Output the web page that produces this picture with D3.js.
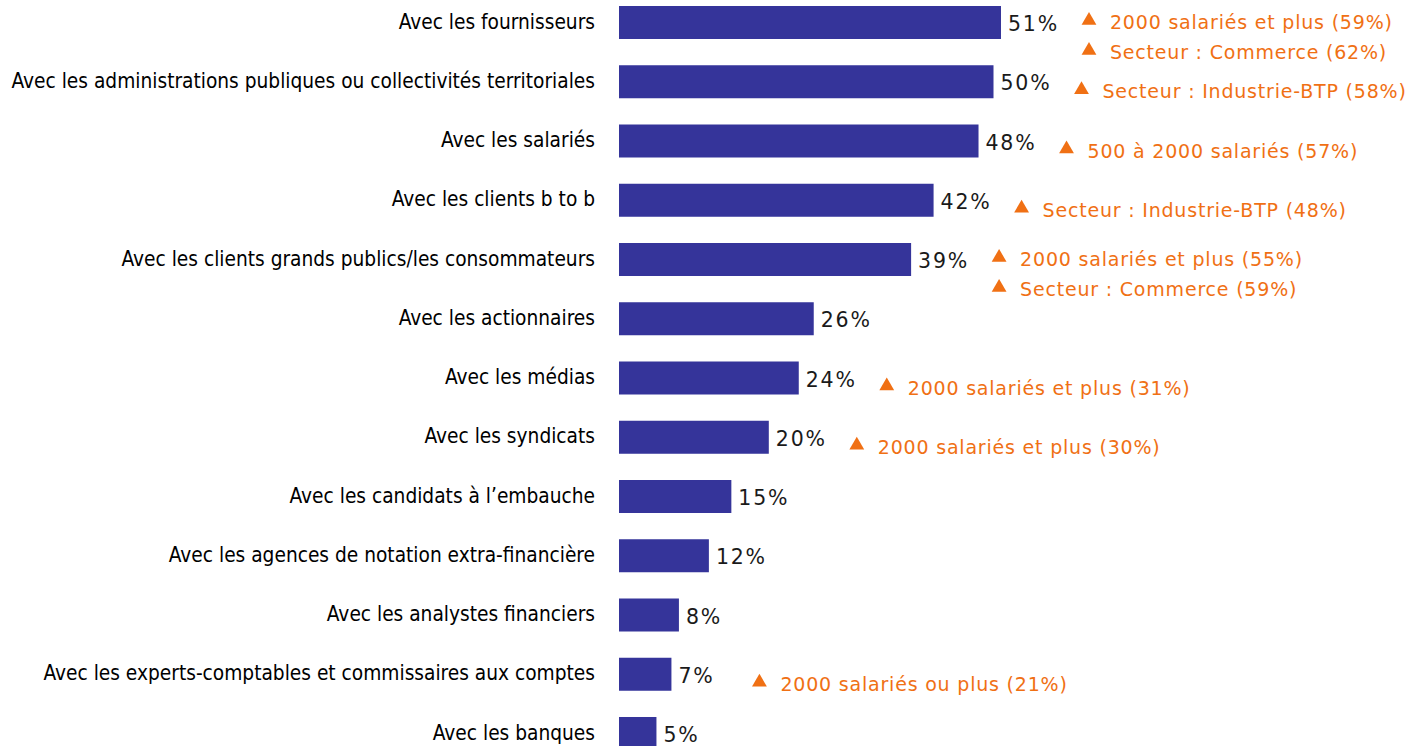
<!DOCTYPE html>
<html>
<head>
<meta charset="utf-8">
<script src="https://cdn.jsdelivr.net/npm/d3@7"></script>
<style>
  html, body { margin: 0; padding: 0; background: #fff; }
  svg { display: block; }
</style>
</head>
<body>
<svg id="chart" width="1418" height="746"></svg>
<script>
const categories = [
  "Avec les fournisseurs",
  "Avec les administrations publiques ou collectivités territoriales",
  "Avec les salariés",
  "Avec les clients b to b",
  "Avec les clients grands publics/les consommateurs",
  "Avec les actionnaires",
  "Avec les médias",
  "Avec les syndicats",
  "Avec les candidats à l’embauche",
  "Avec les agences de notation extra-financière",
  "Avec les analystes financiers",
  "Avec les experts-comptables et commissaires aux comptes",
  "Avec les banques"
];
const values = [51, 50, 48, 42, 39, 26, 24, 20, 15, 12, 8, 7, 5];
const annotations = [
  ["2000 salariés et plus (59%)", "Secteur : Commerce (62%)"],
  ["Secteur : Industrie-BTP (58%)"],
  ["500 à 2000 salariés (57%)"],
  ["Secteur : Industrie-BTP (48%)"],
  ["2000 salariés et plus (55%)", "Secteur : Commerce (59%)"],
  [],
  ["2000 salariés et plus (31%)"],
  ["2000 salariés et plus (30%)"],
  [],
  [],
  [],
  ["2000 salariés ou plus (21%)"],
  []
];

const svg = d3.select("#chart");
const barColor = "#35349A";
const orange = "#F07014";

const x = d3.scaleLinear().domain([0, 100]).range([619, 619 + 749]);
const y = d3.scaleBand().domain(categories).range([6, 750]).paddingInner(0.443).paddingOuter(0);

const rows = svg.selectAll("g.row").data(categories).join("g").attr("class", "row");

rows.append("rect")
  .attr("x", x(0))
  .attr("y", d => y(d))
  .attr("width", (d, i) => x(values[i]) - x(0))
  .attr("height", y.bandwidth())
  .attr("fill", barColor);

rows.append("text")
  .attr("x", 595)
  .attr("y", d => y(d) + y.bandwidth() / 2 - 1)
  .attr("dy", "0.35em")
  .attr("text-anchor", "end")
  .attr("font-family", "'DejaVu Sans Condensed', 'DejaVu Sans', sans-serif")
  .attr("font-stretch", "condensed")
  .attr("font-size", 20.7)
  .attr("fill", "#000")
  .text(d => d);

rows.append("text")
  .attr("x", (d, i) => x(values[i]) + 7)
  .attr("y", d => y(d) + y.bandwidth() / 2 + 1.5)
  .attr("dy", "0.35em")
  .attr("font-family", "'DejaVu Sans', sans-serif")
  .attr("font-size", 20.5)
  .attr("letter-spacing", 1.8)
  .attr("fill", "#1a1a1a")
  .text((d, i) => values[i] + "%");

categories.forEach((c, i) => {
  const ann = annotations[i];
  if (!ann.length) return;
  const cy = y(c) + y.bandwidth() / 2;
  const x0 = x(values[i]) + 81;
  const offsets = ann.length === 1 ? [10] : [0, 30];
  ann.forEach((t, j) => {
    const ty = cy + offsets[j];
    svg.append("path")
      .attr("d", d3.symbol().type(d3.symbolTriangle).size(95)())
      .attr("transform", `translate(${x0 + 7},${ty - 2})`)
      .attr("fill", orange);
    svg.append("text")
      .attr("x", x0 + 28)
      .attr("y", ty)
      .attr("dy", "0.35em")
      .attr("font-family", "'DejaVu Sans', sans-serif")
      .attr("font-size", 19)
      .attr("letter-spacing", 0.8)
      .attr("fill", orange)
      .text(t);
  });
});
</script>
</body>
</html>
